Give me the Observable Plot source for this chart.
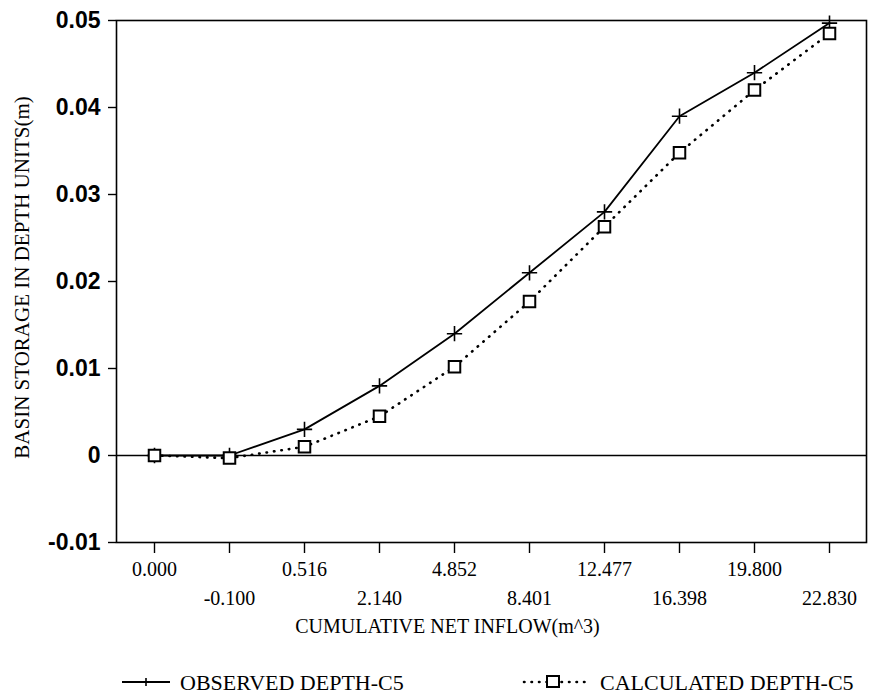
<!DOCTYPE html>
<html>
<head>
<meta charset="utf-8">
<script src="https://cdn.jsdelivr.net/npm/d3@7"></script>
<script src="https://cdn.jsdelivr.net/npm/@observablehq/plot@0.6"></script>
<style>
  html, body { margin: 0; padding: 0; background: #fff; }
  #wrap { position: relative; width: 869px; height: 700px; font-family: "Liberation Serif", serif; color: #000; }
  #legend { position: absolute; left: 0; top: 667px; width: 869px; height: 30px; }
</style>
</head>
<body>
<div id="wrap">
  <div id="chart"></div>
  <div id="legend"></div>
</div>
<script>
// ---- data ----
const categories = ["0.000", "-0.100", "0.516", "2.140", "4.852", "8.401", "12.477", "16.398", "19.800", "22.830"];
const observed   = [0, 0, 0.003, 0.008, 0.014, 0.021, 0.028, 0.039, 0.044, 0.0497];
const calculated = [0, -0.0003, 0.001, 0.0045, 0.0102, 0.0177, 0.0263, 0.0348, 0.042, 0.0485];
const yTicks      = [-0.01, 0, 0.01, 0.02, 0.03, 0.04, 0.05];
const yTickLabels = ["-0.01", "0", "0.01", "0.02", "0.03", "0.04", "0.05"];
const seriesNames = ["OBSERVED DEPTH-C5", "CALCULATED DEPTH-C5"];
const xTitle = "CUMULATIVE NET INFLOW(m^3)";
const yTitle = "BASIN STORAGE IN DEPTH UNITS(m)";

const obsData  = categories.map((c, i) => ({x: c, y: observed[i]}));
const calcData = categories.map((c, i) => ({x: c, y: calculated[i]}));
const row1 = categories.filter((c, i) => i % 2 === 0);
const row2 = categories.filter((c, i) => i % 2 === 1);

const FONT = "Liberation Serif";
const FS = 20;

const chart = Plot.plot({
  width: 869,
  height: 650,
  marginLeft: 116,
  marginRight: 3,
  marginTop: 20,
  marginBottom: 108,
  style: {fontFamily: FONT, fontSize: FS + "px", color: "#000", background: "#fff"},
  x: {type: "point", domain: categories, padding: 0.5, axis: null},
  y: {domain: [-0.01, 0.05], axis: null},
  marks: [
    Plot.frame({stroke: "#000", strokeWidth: 1.6}),
    Plot.ruleY([0], {stroke: "#000", strokeWidth: 1.6}),
    // y axis
    Plot.axisY(yTicks, {
      tickSize: 8, tickPadding: 8, strokeWidth: 1.4,
      tickFormat: (d) => yTickLabels[yTicks.indexOf(d)],
      fontFamily: "Liberation Sans", fontWeight: "bold", fontSize: 23, label: null
    }),
    // x ticks
    Plot.axisX(categories, {tickSize: 11, tickFormat: () => "", strokeWidth: 1.4, label: null}),
    Plot.text(row1, {x: (d) => d, text: (d) => d, frameAnchor: "bottom", dy: 27, lineAnchor: "middle", fontSize: FS}),
    Plot.text(row2, {x: (d) => d, text: (d) => d, frameAnchor: "bottom", dy: 56, lineAnchor: "middle", fontSize: FS}),
    // axis titles
    Plot.text([xTitle], {text: (d) => d, frameAnchor: "bottom", dx: -44, dy: 84, lineAnchor: "middle", fontSize: FS}),
    Plot.text([yTitle], {text: (d) => d, frameAnchor: "left", dx: -94, dy: -4, rotate: -90, textAnchor: "middle", lineAnchor: "middle", fontSize: 21}),
    // series
    Plot.line(calcData, {x: "x", y: "y", stroke: "#000", strokeWidth: 2.6, strokeDasharray: "0.5,7", strokeLinecap: "round"}),
    Plot.line(obsData, {x: "x", y: "y", stroke: "#000", strokeWidth: 1.8}),
    Plot.dot(obsData, {x: "x", y: "y", symbol: "plus", r: 5, stroke: "#000", strokeWidth: 1.6}),
    Plot.dot(calcData, {x: "x", y: "y", symbol: "square", r: 6.5, stroke: "#000", fill: "#fff", strokeWidth: 2})
  ]
});
document.getElementById("chart").appendChild(chart);

// ---- legend ----
const lg = d3.select("#legend").append("svg").attr("width", 869).attr("height", 30)
  .style("font-family", FONT).style("font-size", "22px");
// observed swatch
lg.append("line").attr("x1", 122).attr("x2", 170).attr("y1", 15).attr("y2", 15).attr("stroke", "#000").attr("stroke-width", 1.8);
lg.append("path").attr("d", "M146,11V19M142,15H150").attr("stroke", "#000").attr("stroke-width", 1.6);
lg.append("text").attr("x", 180).attr("y", 15).attr("dy", "0.35em").text(seriesNames[0]);
// calculated swatch
lg.append("line").attr("x1", 524).attr("x2", 590).attr("y1", 15).attr("y2", 15).attr("stroke", "#000")
  .attr("stroke-width", 2.6).attr("stroke-dasharray", "0.5,7").attr("stroke-linecap", "round");
lg.append("rect").attr("x", 547).attr("y", 9).attr("width", 12).attr("height", 11).attr("fill", "#fff").attr("stroke", "#000").attr("stroke-width", 2);
lg.append("text").attr("x", 600).attr("y", 15).attr("dy", "0.35em").text(seriesNames[1]);
</script>
</body>
</html>
